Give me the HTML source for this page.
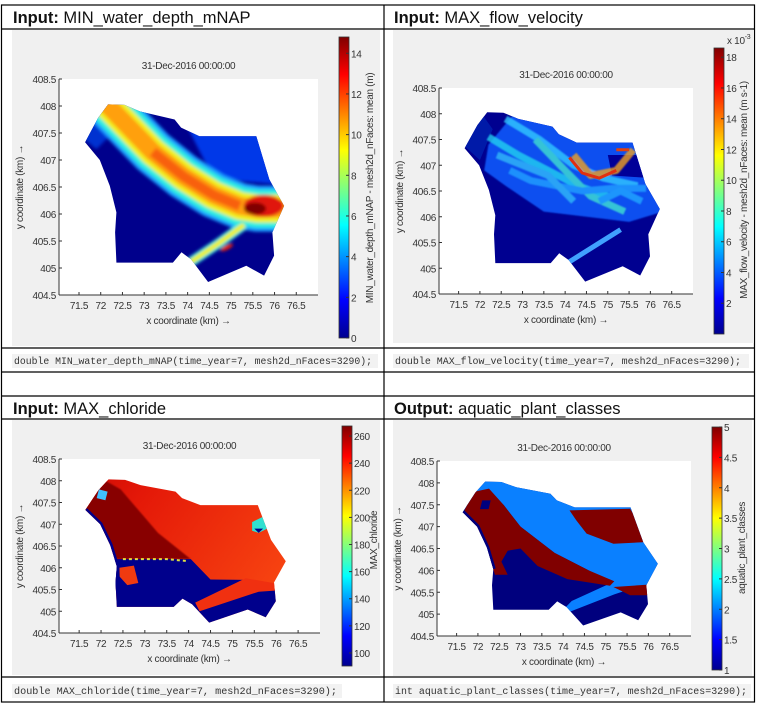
<!DOCTYPE html>
<html><head><meta charset="utf-8">
<style>
html,body{margin:0;padding:0;background:#fff;}
svg{display:block;font-family:"Liberation Sans",sans-serif;}
.tk{font-size:10px;fill:#333;letter-spacing:-0.3px;}
.hd{font-size:16.5px;fill:#111;}
.code{font-family:"Liberation Mono",monospace;font-size:9.9px;fill:#333;}
</style></head>
<body>
<svg id="page" width="760" height="707" viewBox="0 0 760 707" xmlns="http://www.w3.org/2000/svg">
<defs>
<linearGradient id="jet" x1="0" y1="1" x2="0" y2="0">
<stop offset="0" stop-color="#00008f"/><stop offset="0.125" stop-color="#0000ff"/>
<stop offset="0.375" stop-color="#00ffff"/><stop offset="0.625" stop-color="#ffff00"/>
<stop offset="0.875" stop-color="#ff0000"/><stop offset="1" stop-color="#800000"/>
</linearGradient>
<linearGradient id="clgrad" x1="0" y1="0" x2="1" y2="0.6">
<stop offset="0" stop-color="#c00000"/><stop offset="0.35" stop-color="#e41808"/><stop offset="1" stop-color="#fa4a12"/>
</linearGradient>
<filter id="blur2"><feGaussianBlur stdDeviation="1.5"/></filter>
<filter id="blur1"><feGaussianBlur stdDeviation="0.8"/></filter>
</defs>
<g stroke="#000" stroke-width="1.2" fill="none">
<rect x="1.5" y="5" width="753" height="697"/>
<line x1="384" y1="5" x2="384" y2="702"/>
<line x1="1.5" y1="29" x2="754.5" y2="29"/>
<line x1="1.5" y1="348" x2="754.5" y2="348"/>
<line x1="1.5" y1="372" x2="754.5" y2="372"/>
<line x1="1.5" y1="396" x2="754.5" y2="396"/>
<line x1="1.5" y1="419" x2="754.5" y2="419"/>
<line x1="1.5" y1="677" x2="754.5" y2="677"/>
</g>
<g id="content"></g>
</svg>
<script>
// ---- data arrays ----
const xTicks = [71.5,72,72.5,73,73.5,74,74.5,75,75.5,76,76.5];
const yTicks = [404.5,405,405.5,406,406.5,407,407.5,408,408.5];
const cbTicks1 = [0,2,4,6,8,10,12,14];
const cbTicks2 = [2,4,6,8,10,12,14,16,18];
const cbTicks3 = [100,120,140,160,180,200,220,240,260];
const cbTicks4 = [1,1.5,2,2.5,3,3.5,4,4.5,5];
const domainX = [71.64,71.94,72.17,72.55,72.9,73.7,73.85,74.27,75.58,75.88,76.22,75.95,75.99,75.76,75.35,74.47,74.08,73.86,73.66,72.36,72.33,72.36,72.21,71.98];
const domainY = [407.33,407.78,408.03,408.02,407.9,407.75,407.6,407.44,407.44,406.64,406.15,405.66,405.23,404.86,405.04,404.74,405.16,405.29,405.1,405.1,405.66,406.03,406.52,407.0];
const chanX = [72.0,72.6,73.2,73.9,74.6,75.2,75.6,76.3];
const chanY = [408.15,407.65,407.15,406.7,406.35,406.15,406.1,406.1];
const spurX = [75.3,74.7,74.05];
const spurY = [405.8,405.45,405.1];

const NS='http://www.w3.org/2000/svg';
const root=document.getElementById('content');
function el(tag,attrs,parent,txt){const e=document.createElementNS(NS,tag);for(const k in attrs)e.setAttribute(k,attrs[k]);if(txt!==undefined)e.textContent=txt;(parent||root).appendChild(e);return e;}

function panel(p){
  const g=el('g',{});
  
  
  el('rect',{x:p.bg[0],y:p.bg[1],width:p.bg[2],height:p.bg[3],fill:'#f0f0f0'},g);
  el('rect',{x:p.L,y:p.T,width:p.R-p.L,height:p.B-p.T,fill:'#fff'},g);
  const sx=v=>p.L+(v-71.04)/(77.0-71.04)*(p.R-p.L);
  const sy=v=>p.B-(v-404.5)/(408.5-404.5)*(p.B-p.T);
  const pts=(xs,ys)=>xs.map((x,i)=>sx(x).toFixed(1)+','+sy(ys[i]).toFixed(1)).join(' ');
  const cid='clip_'+p.id;
  const cp=el('clipPath',{id:cid},g);
  el('polygon',{points:pts(domainX,domainY)},cp);
  const map=el('g',{'clip-path':'url(#'+cid+')'},g);
  
  
  p.draw(map,sx,sy,pts);
  el('line',{x1:p.L,y1:p.B,x2:p.R,y2:p.B,stroke:'#333','stroke-width':1},g);
  el('line',{x1:p.L,y1:p.T,x2:p.L,y2:p.B,stroke:'#333','stroke-width':1},g);
  xTicks.forEach(t=>{const x=sx(t);
    el('line',{x1:x,y1:p.B,x2:x,y2:p.B-3,stroke:'#333'},g);
    const tx=el('text',{x:x,y:p.B+14,'text-anchor':'middle',class:'tk'},g,String(t));
    });
  yTicks.forEach(t=>{const y=sy(t);
    el('line',{x1:p.L,y1:y,x2:p.L+3,y2:y,stroke:'#333'},g);
    const ty=el('text',{x:p.L-3,y:y+4,'text-anchor':'end',class:'tk'},g,String(t));
    });
  const xl=el('text',{x:(p.L+p.R)/2,y:p.B+29,'text-anchor':'middle',class:'tk'},g,'x coordinate (km) →');
  
  const yl=el('text',{x:0,y:0,'text-anchor':'middle',class:'tk',transform:`translate(${p.L-36},${(p.T+p.B)/2}) rotate(-90)`},g,'y coordinate (km) →');
  
  const ti=el('text',{x:(p.L+p.R)/2,y:p.T-10,'text-anchor':'middle',class:'tk'},g,'31-Dec-2016 00:00:00');
  
  const c=p.cb;
  const cbg=el('g',{},g);
  
  el('rect',{x:c.x,y:c.t,width:10,height:c.b-c.t,fill:'url(#jet)',stroke:'#333','stroke-width':0.8},cbg);
  const cy=v=>c.b-(v-c.min)/(c.max-c.min)*(c.b-c.t);
  c.ticks.forEach(t=>{const y=cy(t);
    el('line',{x1:c.x+7,y1:y,x2:c.x+10,y2:y,stroke:'#333'},cbg);
    el('text',{x:c.x+12,y:y+4,class:'tk'},cbg,String(t));});
  const cl=el('text',{x:0,y:0,'text-anchor':'middle',class:'tk',transform:`translate(${c.lx},${c.ly}) rotate(-90)`},g,c.label);
  
  if(c.exp){const e=el('text',{x:c.x+13,y:c.t-4,class:'tk','font-size':'9px'},g,'x 10');
    el('tspan',{dy:-5,'font-size':'7px'},e,'-3');}
}

// Panel 1
panel({id:1,name:'panel-min-water-depth',bg:[12,30,368,316],L:59,R:318,T:79,B:295,
 cb:{x:339,t:37,b:338,min:0,max:14.8,ticks:cbTicks1,label:'MIN_water_depth_mNAP - mesh2d_nFaces: mean (m)',lx:373,ly:188},
 draw:(m,sx,sy,pts)=>{
  el('rect',{x:0,y:0,width:760,height:707,fill:'#00008c'},m);
  el('polygon',{points:pts([74.0,75.9,76.1,74.6],[407.6,407.6,406.55,406.65]),fill:'#0038e8',filter:'url(#blur2)'},m);
  el('polygon',{points:pts([71.6,72.2,72.4,71.9],[407.4,408.1,407.6,407.2]),fill:'#0030d0',filter:'url(#blur2)'},m);
  const cg=el('g',{filter:'url(#blur2)',fill:'none','stroke-linejoin':'round','stroke-linecap':'butt'},m);
  el('polyline',{points:pts(chanX,chanY),stroke:'#1aa0ff','stroke-width':46},cg);
  el('polyline',{points:pts(chanX,chanY),stroke:'#30f0e0','stroke-width':38},cg);
  el('polyline',{points:pts(chanX,chanY),stroke:'#f0f020','stroke-width':28},cg);
  el('polyline',{points:pts(chanX,chanY),stroke:'#ffa010','stroke-width':18},cg);
  el('polyline',{points:pts(chanX.slice(2,6),chanY.slice(2,6)),stroke:'#f86010','stroke-width':10},cg);
  el('ellipse',{cx:sx(75.75),cy:sy(406.15),rx:20,ry:11,fill:'#e01810'},cg);
  el('ellipse',{cx:sx(75.55),cy:sy(406.1),rx:11,ry:6,fill:'#800000'},cg);
  el('polyline',{points:pts(spurX,spurY),stroke:'#30e8e0','stroke-width':10},cg);
  el('polyline',{points:pts(spurX,spurY),stroke:'#f0f020','stroke-width':5},cg);
  el('ellipse',{cx:sx(74.9),cy:sy(405.38),rx:7,ry:2.2,fill:'#e82010',transform:`rotate(-27 ${sx(74.9)} ${sy(405.38)})`},cg);
 }});

// Panel 2
const streakX=[[72.2,72.9,73.6,74.3,75.0],[72.6,73.4,74.2,74.9,75.7],[73.3,74.0,74.6,75.4],[74.2,74.6,75.2,75.6],[72.7,73.2,73.8,74.4,75.1,75.9],[72.4,73.0,73.6,74.2],[74.8,75.3,75.8]];
const streakY=[[407.55,407.2,406.9,406.6,406.4],[407.9,407.5,407.0,406.75,406.6],[407.5,406.9,406.4,406.1],[407.2,406.8,406.9,407.3],[406.9,406.7,406.6,406.5,406.55,406.55],[407.2,407.0,406.8,406.3],[406.3,406.5,406.3]];
const streakC=['#20d0f0','#30c8ff','#40e0d0','#f0a020','#20a0ff','#30b8f8','#20a8ff'];
panel({id:2,name:'panel-max-flow-velocity',bg:[393,30,361,313],L:439,R:693,T:88,B:294,
 cb:{x:714,t:48,b:334,min:0,max:18.6,ticks:cbTicks2,label:'MAX_flow_velocity - mesh2d_nFaces: mean (m s-1)',lx:747,ly:190,exp:true},
 draw:(m,sx,sy,pts)=>{
  el('rect',{x:0,y:0,width:760,height:707,fill:'#000090'},m);
  el('polygon',{points:pts([72.2,72.9,74.3,75.9,76.3,75.5,74.5,73.5,72.6,72.1],[407.4,408.1,407.5,407.5,406.1,405.9,406.0,406.1,406.6,406.9]),fill:'#0a50f0',filter:'url(#blur1)'},m);
  el('polygon',{points:pts([75.0,75.8,76.0,75.1],[407.2,407.2,406.75,406.8]),fill:'#000098'},m);
  el('polygon',{points:pts([71.6,72.0,72.3,72.0],[407.4,408.05,407.7,407.1]),fill:'#001aa8'},m);
  const sg=el('g',{fill:'none','stroke-linejoin':'round',opacity:0.8,filter:'url(#blur1)'},m);
  streakX.forEach((xs,i)=>{
    el('polyline',{points:pts(xs,streakY[i]),stroke:streakC[i],'stroke-width':7},sg);});
  el('polyline',{points:pts([74.1,74.4,74.8,75.2],[407.15,406.85,406.75,406.9]),stroke:'#e03010','stroke-width':3,fill:'none'},m);
  el('polyline',{points:pts([75.2,75.5],[407.3,407.3]),stroke:'#e04010','stroke-width':3,fill:'none'},m);
  el('polyline',{points:pts([75.3,74.05],[405.75,405.1]),stroke:'#40a0ff','stroke-width':5,fill:'none'},m);
 }});

// Panel 3
panel({id:3,name:'panel-max-chloride',bg:[12,420,368,255],L:59,R:320,T:459,B:633,
 cb:{x:342,t:426,b:666,min:90.4,max:267.4,ticks:cbTicks3,label:'MAX_chloride',lx:377,ly:540},
 draw:(m,sx,sy,pts)=>{
  el('polygon',{points:pts([71,77,77,71],[404,404,409,409]),fill:'url(#clgrad)'},m);
  el('polygon',{points:pts([71.6,72.1,72.45,73.3,74.05,72.36,71.9],[407.4,408.0,407.8,406.8,406.2,406.2,406.9]),fill:'#880000',filter:'url(#blur1)'},m);
  el('polygon',{points:pts([72.0,72.36,74.05,74.5,75.3,75.6,76.05,76.2,72.0],[406.2,406.2,406.2,405.73,405.72,405.5,405.5,404.0,404.0]),fill:'#00008c'},m);
  el('polygon',{points:pts([75.3,74.15,74.25,75.6,76.05,76.1],[405.76,405.2,405.0,405.45,405.48,405.62]),fill:'#f03010'},m);
  el('polygon',{points:pts([72.42,72.75,72.85,72.6,72.42],[406.0,406.05,405.65,405.6,405.8]),fill:'#f03a10'},m);
  el('polyline',{points:pts([71.64,71.98,72.21,72.36,72.38],[407.33,407.0,406.52,406.03,405.5]),stroke:'#00008c','stroke-width':5,fill:'none'},m);
  el('polygon',{points:pts([75.45,75.75,75.9,75.6,75.45],[407.05,407.2,406.95,406.8,406.85]),fill:'#30e0d0'},m);
  el('polygon',{points:pts([75.5,75.7,75.6],[406.9,406.9,406.8]),fill:'#00008c'},m);
  el('polygon',{points:pts([71.95,72.15,72.1,71.9],[407.8,407.75,407.55,407.6]),fill:'#40c0ff'},m);
  el('polyline',{points:pts([72.5,73.5,74.0],[406.2,406.2,406.15]),stroke:'#e0e040','stroke-width':2,'stroke-dasharray':'3 3',fill:'none'},m);
 }});

// Panel 4
panel({id:4,name:'panel-aquatic-plant-classes',bg:[393,420,359,256],L:437,R:691,T:461,B:636,
 cb:{x:712,t:427,b:670,min:1,max:5,ticks:cbTicks4,label:'aquatic_plant_classes',lx:745,ly:548},
 draw:(m,sx,sy,pts)=>{
  el('rect',{x:0,y:0,width:760,height:707,fill:'#00007e'},m);
  el('polygon',{points:pts([71.5,72.0,77,77,76.0,75.5,75.2,74.15,74.05,74.2,75.1,74.6,73.8,73.0,72.6],[407.4,408.2,408.2,405.6,405.62,405.55,405.45,405.05,405.15,405.3,405.7,406.0,406.4,407.0,407.5]),fill:'#0a80ff'},m);
  el('polygon',{points:pts([71.67,71.87,72.26,72.6,73.0,73.8,74.6,75.2,75.1,74.1,73.4,73.0,72.7,72.55,72.7,72.4,72.3,72.2,72.0,71.8],[407.33,407.79,407.87,407.5,407.0,406.4,406.0,405.75,405.65,405.8,406.1,406.5,406.45,406.2,405.9,405.9,406.2,406.6,406.9,407.1]),fill:'#800000'},m);
  el('polyline',{points:pts([71.64,71.98,72.21,72.36],[407.33,407.0,406.52,406.03]),stroke:'#00007e','stroke-width':5,fill:'none'},m);
  el('polygon',{points:pts([74.15,75.57,76.04,75.18,74.55,74.31],[407.37,407.41,406.65,406.61,406.84,407.14]),fill:'#800000'},m);
  el('polygon',{points:pts([75.18,76.08,75.97,75.57],[405.62,405.68,405.43,405.43]),fill:'#800000'},m);
  el('polygon',{points:pts([72.1,72.3,72.25,72.05],[407.6,407.6,407.4,407.4]),fill:'#00007e'},m);
 }});

function hdr(x,y,bold,rest,name){const t=el('text',{x:x,y:y,class:'hd'});
  
  el('tspan',{'font-weight':'bold'},t,bold);el('tspan',{},t,' '+rest);}
hdr(13,23,'Input:','MIN_water_depth_mNAP','header-min-water-depth');
hdr(394,23,'Input:','MAX_flow_velocity','header-max-flow-velocity');
hdr(13,414,'Input:','MAX_chloride','header-max-chloride');
hdr(394,414,'Output:','aquatic_plant_classes','header-aquatic-plant-classes');
function code(x,y,w,tl,txt,name){
  el('rect',{x:x,y:y-10,width:w,height:14,fill:'#f2f2f2'});
  const t=el('text',{x:x+2,y:y,class:'code',textLength:tl,lengthAdjust:'spacingAndGlyphs'},root,txt);
  }
code(12,364,366,358,'double MIN_water_depth_mNAP(time_year=7, mesh2d_nFaces=3290);','code-min-water-depth');
code(393,364,356,346,'double MAX_flow_velocity(time_year=7, mesh2d_nFaces=3290);','code-max-flow-velocity');
code(12,694,330,323,'double MAX_chloride(time_year=7, mesh2d_nFaces=3290);','code-max-chloride');
code(393,694,358,352,'int aquatic_plant_classes(time_year=7, mesh2d_nFaces=3290);','code-aquatic-plant-classes');
</script>
</body></html>
